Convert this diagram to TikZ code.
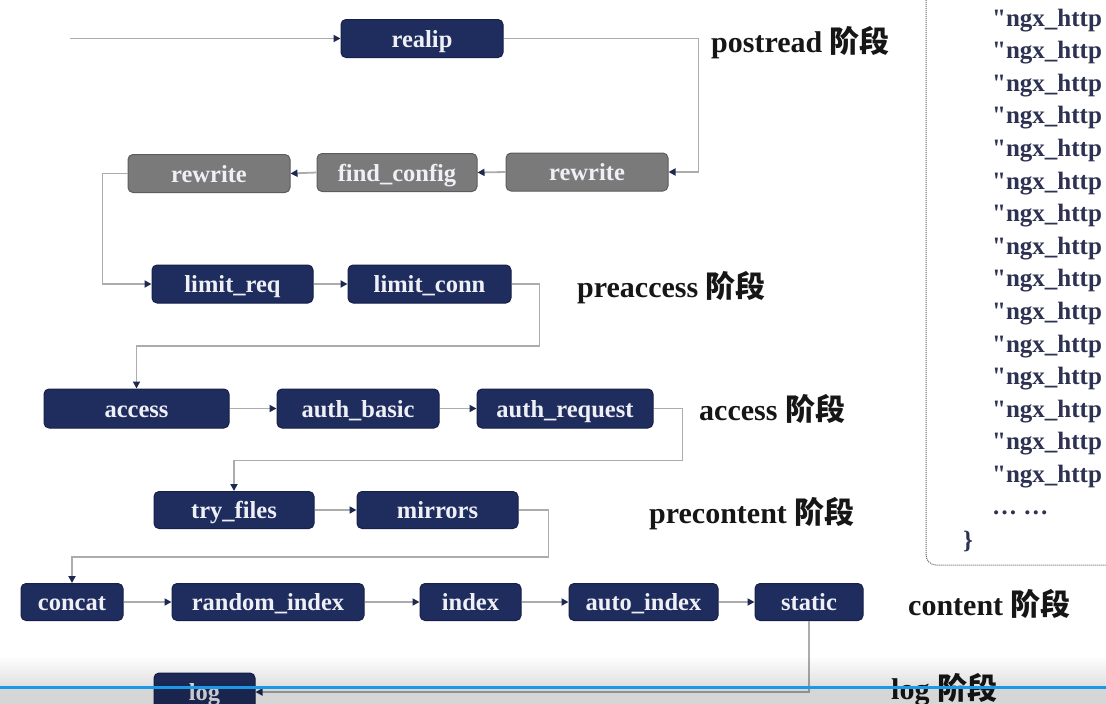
\documentclass[tikz,border=0pt]{standalone}
\usepackage{fontspec}
\setmainfont{Liberation Serif}
\newfontfamily\codefont{Liberation Serif}
\newfontfamily\cjk{Noto Sans CJK SC}
\usetikzlibrary{arrows.meta}
\definecolor{navy}{RGB}{31,45,94}
\definecolor{navyb}{RGB}{22,32,72}
\definecolor{gboxf}{RGB}{122,122,122}
\definecolor{gboxb}{RGB}{92,92,92}
\definecolor{conn}{RGB}{172,172,172}
\definecolor{tipc}{RGB}{30,40,80}
\definecolor{boxtxt}{RGB}{238,240,246}
\definecolor{lblc}{RGB}{22,22,22}
\definecolor{codec}{RGB}{45,50,82}
\definecolor{ytb}{RGB}{28,152,232}
\definecolor{dotc}{RGB}{95,95,95}
\tikzset{
  box/.style={draw=navyb, fill=navy, rounded corners=5pt, minimum height=38pt,
    inner sep=0pt, text=boxtxt, font=\bfseries\fontsize{24.5}{28}\selectfont,
    text height=17pt, text depth=0pt, line width=1pt},
  gbox/.style={box, draw=gboxb, fill=gboxf},
  flow/.style={draw=conn, line width=1.8pt, -{Triangle[length=7pt,width=7pt,color=tipc]}},
  phase/.style={anchor=base west, inner sep=0pt, text=lblc, font=\bfseries\fontsize{30}{34}\selectfont},
  codeline/.style={anchor=base west, inner sep=0pt, text=codec, font=\codefont\bfseries\fontsize{25}{28}\selectfont}
}
\begin{document}
\begin{tikzpicture}[x=1pt,y=-1pt]
\useasboundingbox (0,0) rectangle (1106,704);
\clip (0,0) rectangle (1106,704);
\fill[white] (0,0) rectangle (1106,704);

% dotted code box
\draw[dotc, line width=1pt, dash pattern=on 1pt off 1pt, rounded corners=10pt]
  (926,-20) -- (926,565) -- (1130,565);
\foreach \k in {0,...,14} {
  \node[codeline] (code\k) at (992,26+32.6*\k) {"ngx\_http};
}
\node[codeline] (dots) at (992,514) {\ldots\ \ldots};
\node[codeline] (brace) at (963,548) {\}};

% boxes
\node[box, minimum width=162pt] (realip) at (422,38.5) {realip};
\node[gbox, minimum width=162pt] (rewriteR) at (587,172) {rewrite};
\node[gbox, minimum width=160pt] (findcfg) at (397,172.5) {find\_config};
\node[gbox, minimum width=162pt] (rewriteL) at (209,173.5) {rewrite};
\node[box, minimum width=161pt] (limitreq) at (232.5,284) {limit\_req};
\node[box, minimum width=163pt] (limitconn) at (429.5,284) {limit\_conn};
\node[box, minimum width=185pt, minimum height=39pt] (access) at (136.5,408.5) {access};
\node[box, minimum width=162pt, minimum height=39pt] (authbasic) at (358,408.5) {auth\_basic};
\node[box, minimum width=176pt, minimum height=39pt] (authreq) at (565,408.5) {auth\_request};
\node[box, minimum width=160pt, minimum height=37pt] (tryfiles) at (234,510) {try\_files};
\node[box, minimum width=161pt, minimum height=37pt] (mirrors) at (437.5,510) {mirrors};
\node[box, minimum width=102pt, minimum height=37pt] (concat) at (72,602) {concat};
\node[box, minimum width=192pt, minimum height=37pt] (randidx) at (268,602) {random\_index};
\node[box, minimum width=101pt, minimum height=37pt] (index) at (470.5,602) {index};
\node[box, minimum width=149pt, minimum height=37pt] (autoidx) at (643.5,602) {auto\_index};
\node[box, minimum width=108pt, minimum height=37pt] (static) at (809,602) {static};
\node[box, minimum width=101pt] (log) at (204.5,692) {log};

% connectors
\coordinate (start) at (70,38.5);
\draw[flow] (start) -- (realip.west);
\draw[flow] (realip.east) -- ++(195,0) |- (rewriteR.east);
\draw[flow] (rewriteR.west) -- (findcfg.east);
\draw[flow] (findcfg.west) -- (rewriteL.east);
\draw[flow] (rewriteL.west) -- ++(-25,0) |- (limitreq.west);
\draw[flow] (limitreq.east) -- (limitconn.west);
\draw[flow] (limitconn.east) -| ++(28,62) -| (access.north);
\draw[flow] (access.east) -- (authbasic.west);
\draw[flow] (authbasic.east) -- (authreq.west);
\draw[flow] (authreq.east) -| ++(29,52) -| (tryfiles.north);
\draw[flow] (tryfiles.east) -- (mirrors.west);
\draw[flow] (mirrors.east) -| ++(30,47) -| (concat.north);
\draw[flow] (concat.east) -- (randidx.west);
\draw[flow] (randidx.east) -- (index.west);
\draw[flow] (index.east) -- (autoidx.west);
\draw[flow] (autoidx.east) -- (static.west);
\draw[flow] (static.south) |- (log.east);

% phase labels
\node[phase] (lpost) at (711,52) {postread {\cjk\bfseries 阶段}};
\node[phase] (lpre) at (577,297) {preaccess {\cjk\bfseries 阶段}};
\node[phase] (lacc) at (699,420) {access {\cjk\bfseries 阶段}};
\node[phase] (lprec) at (649,523) {precontent {\cjk\bfseries 阶段}};
\node[phase] (lcont) at (908,615) {content {\cjk\bfseries 阶段}};
\node[phase] (llog) at (891,699) {log {\cjk\bfseries 阶段}};

% video player overlay
\foreach \i in {0,...,15} {
  \fill[black, opacity=0.008*\i] (0,655+2*\i) rectangle (1106,657+2*\i);
}
\fill[black, opacity=0.16] (0,687) rectangle (1106,704);
\fill[ytb] (0,685.5) rectangle (1106,688.5);
\end{tikzpicture}
\end{document}
